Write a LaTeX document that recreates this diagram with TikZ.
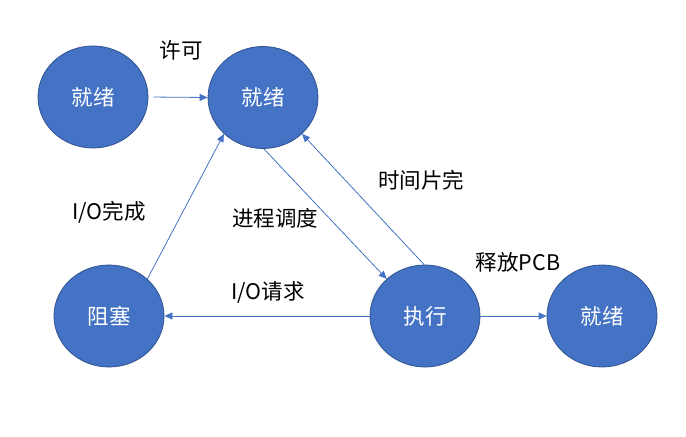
\documentclass[tikz,border=0pt]{standalone}
\usepackage{fontspec}
\setmainfont{Noto Sans CJK SC}
\usetikzlibrary{shapes.geometric,arrows.meta}
\definecolor{nodefill}{HTML}{4472C4}
\definecolor{nodeline}{HTML}{2F528F}
\definecolor{arrowcol}{HTML}{4472C4}
\tikzset{
  state/.style={ellipse, fill=nodefill, draw=nodeline, line width=0.8bp,
    minimum width=110bp, minimum height=102bp, inner sep=0pt,
    text=white, font=\fontsize{21.5bp}{25bp}\selectfont},
  lbl/.style={inner sep=0pt, text=black, font=\fontsize{21.5bp}{25bp}\selectfont},
  conn/.style={draw=arrowcol, line width=0.8bp,
    -{Triangle[length=8bp,width=7bp]}}
}
\begin{document}
\begin{tikzpicture}[x=1bp,y=-1bp]
\useasboundingbox (0,0) rectangle (686,437);
\node[state] (r1) at (93,97) {就绪};
\node[state] (r2) at (263,97.5) {就绪};
\node[state] (blk) at (109,316) {阻塞};
\node[state] (run) at (425,316) {执行};
\node[state] (r3) at (602,316) {就绪};

\node[lbl] (l1) at (181,50) {许可};
\node[lbl] (l2) at (421,180) {时间片完};
\node[lbl] (l3) at (275,218) {进程调度};
\node[lbl] (l4) at (109,212) {I/O完成};
\node[lbl] (l5) at (268,292) {I/O请求};
\node[lbl] (l6) at (518,262) {释放PCB};

\draw[conn, shorten <=5bp] (r1.east) -- (r2.west);
\draw[conn] (blk.44) -- (r2.-137);
\draw[conn] (r2.-89) -- (run.136);
\draw[conn] (run.91) -- (r2.-43);
\draw[conn] (run.west) -- (blk.east);
\draw[conn] (run.east) -- (r3.west);
\end{tikzpicture}
\end{document}
